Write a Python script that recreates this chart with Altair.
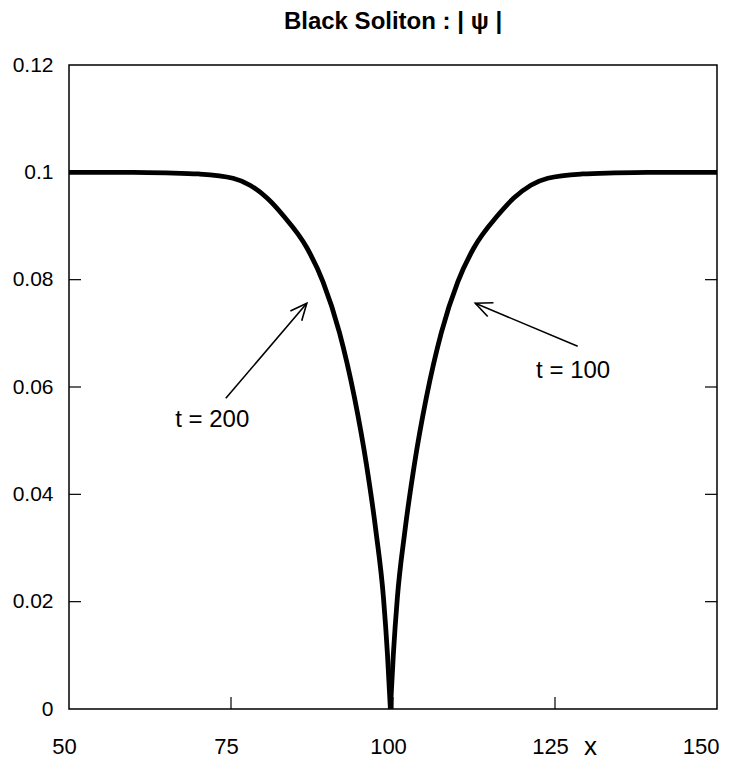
import math
import altair as alt
import pandas as pd

# ---- data ----
x_vals = [50, 60, 65, 70, 75.31, 77.93, 80.56, 83.02, 86.73, 89.2, 91.73, 94.06, 95.91, 97.38, 98.53, 99.15, 99.6,
          99.6, 100.05, 100.67, 101.82, 103.29, 105.14, 107.47, 110.0, 112.47, 116.18, 118.64, 121.27, 123.89, 129.2, 134.2, 139.2, 150]
y_vals = [0.1, 0.1, 0.0999, 0.0997, 0.0989, 0.0976, 0.0952, 0.0920, 0.0859, 0.0796, 0.0702, 0.0580, 0.0455, 0.0330, 0.0207, 0.0101, 0.0,
          0.0, 0.0101, 0.0207, 0.0330, 0.0455, 0.0580, 0.0702, 0.0796, 0.0859, 0.0920, 0.0952, 0.0976, 0.0989, 0.0997, 0.0999, 0.1, 0.1]
branch = ["left"] * 17 + ["right"] * 17

x_ticks = [50, 75, 100, 125, 150]
y_ticks = [0, 0.02, 0.04, 0.06, 0.08, 0.1, 0.12]
x_inner_ticks = [75, 100, 125]
y_inner_ticks = [0.02, 0.04, 0.06, 0.08, 0.1]

label_text = ["t = 200", "t = 100"]
label_x = [72.1, 127.8]
label_y = [0.0538, 0.0630]
tail_x = [74.2, 128.5]
tail_y = [0.0579, 0.0676]
head_x = [86.7, 112.7]
head_y = [0.0756, 0.0756]

title_text = "Black Soliton :  | \u03c8 |"

W, H = 648, 644
FONT = "Liberation Sans"

curve_df = pd.DataFrame({"x": x_vals, "y": y_vals, "b": branch})
px_x = W / (x_ticks[-1] - x_ticks[0])
px_y = H / (y_ticks[-1] - y_ticks[0])
angles = []
for tx, ty, hx, hy in zip(tail_x, tail_y, head_x, head_y):
    dx = (hx - tx) * px_x
    dy = -(hy - ty) * px_y
    angles.append(math.degrees(math.atan2(dy, dx)) % 360)
ann_df = pd.DataFrame({"t": label_text, "lx": label_x, "ly": label_y,
                       "tx": tail_x, "ty": tail_y, "hx": head_x, "hy": head_y, "ang": angles})

xs = alt.Scale(domain=[x_ticks[0], x_ticks[-1]], nice=False, zero=False)
ys = alt.Scale(domain=[y_ticks[0], y_ticks[-1]], nice=False, zero=False)
last_x = x_ticks[-1]
x_axis = alt.Axis(values=x_ticks, format="d", title="x",
                  titleX=521, titleY=45, titleBaseline="alphabetic",
                  titleFontSize=26, titleFontWeight="normal",
                  labelPadding=27, labelFontSize=22, labelFlush=False,
                  labelAlign={"condition": {"test": f"datum.value == {last_x}", "value": "right"}, "value": "center"},
                  labelOffset={"condition": {"test": f"datum.value == {last_x}", "value": 2}, "value": -5})
y_axis = alt.Axis(values=y_ticks, format=".2~f", title=None, labelPadding=16,
                  labelFontSize=21, labelFlush=False)

curve = alt.Chart(curve_df).mark_line(color="black", strokeWidth=4.8, interpolate="monotone").encode(
    x=alt.X("x:Q", scale=xs, axis=x_axis),
    y=alt.Y("y:Q", scale=ys, axis=y_axis),
    detail="b:N",
)

shafts = alt.Chart(ann_df).mark_rule(color="black", strokeWidth=1.6).encode(
    x=alt.X("tx:Q", scale=xs, axis=x_axis), y=alt.Y("ty:Q", scale=ys, axis=y_axis),
    x2="hx:Q", y2="hy:Q",
)

heads = alt.Chart(ann_df).mark_point(shape="M-1,-0.45L0,0L-1,0.45", filled=False, color="black",
                                     strokeWidth=1.6, size=1100, opacity=1, strokeJoin="miter").encode(
    x=alt.X("hx:Q", scale=xs, axis=x_axis), y=alt.Y("hy:Q", scale=ys, axis=y_axis),
    angle=alt.Angle("ang:Q", scale=None),
)

labels = alt.Chart(ann_df).mark_text(font=FONT, fontSize=24, color="black", align="center", baseline="middle").encode(
    x=alt.X("lx:Q", scale=xs, axis=x_axis), y=alt.Y("ly:Q", scale=ys, axis=y_axis), text="t:N",
)

yt_df = pd.DataFrame({"v": y_inner_ticks})
xt_df = pd.DataFrame({"v": x_inner_ticks})
tl = alt.Chart(yt_df).mark_rule(color="black", strokeWidth=1.2).encode(
    y=alt.Y("v:Q", scale=ys, axis=y_axis), x=alt.value(0), x2=alt.value(12))
tr = alt.Chart(yt_df).mark_rule(color="black", strokeWidth=1.2).encode(
    y=alt.Y("v:Q", scale=ys, axis=y_axis), x=alt.value(W - 12), x2=alt.value(W))
tb = alt.Chart(xt_df).mark_rule(color="black", strokeWidth=1.2).encode(
    x=alt.X("v:Q", scale=xs, axis=x_axis), y=alt.value(H - 12), y2=alt.value(H))

chart = alt.layer(curve, tl, tr, tb, shafts, heads, labels).properties(
    width=W, height=H,
    title=alt.TitleParams(title_text, font=FONT, fontSize=24, fontWeight="bold", color="black",
                          anchor="middle", baseline="alphabetic", offset=1),
    autosize=alt.AutoSizeParams(type="none"),
    padding={"left": 61, "top": 57, "right": 10, "bottom": 50},
    background="white",
).configure_view(stroke="black", strokeWidth=1.5).configure_axis(
    grid=False, domain=False, ticks=False, tickSize=0,
    labelFont=FONT, labelColor="black",
    titleFont=FONT, titleColor="black",
)

chart.save("out.html", embed_options={"renderer": "svg", "actions": False})
